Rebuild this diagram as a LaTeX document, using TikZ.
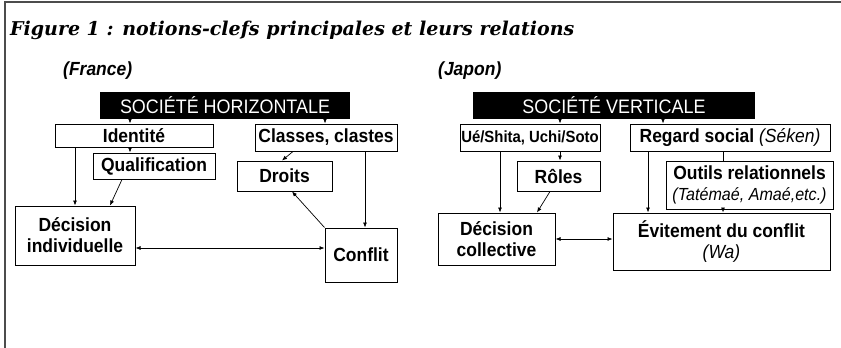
\documentclass[tikz,border=0pt]{standalone}
\usepackage{fontspec}
\setmainfont{DejaVu Serif}
\setsansfont{Liberation Sans}[FakeStretch=0.92]
\usetikzlibrary{arrows.meta}
\newcommand\lightit{\mdseries\itshape}

\begin{document}
\begin{tikzpicture}[x=1pt,y=-1pt,
  box/.style={shape=rectangle,draw=black,align=center,line width=1pt,inner sep=0pt,
    font=\sffamily\bfseries\fontsize{19}{21}\selectfont},
  head/.style={shape=rectangle,fill=black,text=white,inner sep=0pt,
    font=\sffamily\fontsize{19.5}{21}\selectfont},
  land/.style={font=\sffamily\bfseries\itshape\fontsize{19}{21}\selectfont,inner sep=0pt},
  arr/.style={-{Latex[length=5pt,width=4pt]},draw=black,line width=0.7pt},
  dbl/.style={{Latex[length=5pt,width=4pt]}-{Latex[length=5pt,width=4pt]},draw=black,line width=0.7pt}]
\useasboundingbox (0,0) rectangle (841,348);
\draw[draw=black!70,line width=1.5pt] (841,2) -- (5,2) -- (5,348);

\node[anchor=base west,inner sep=0pt,font=\bfseries\itshape\fontsize{19}{24}\selectfont] (0) at (10,35) {Figure 1 : notions-clefs principales et leurs relations};
\node[land,anchor=west] (1) at (63,71) {(France)};
\node[land,anchor=west] (2) at (438,71) {(Japon)};

\node[head,minimum width=250,minimum height=27,text depth=0pt] (3) at (225,105.5) {SOCIÉTÉ HORIZONTALE};
\node[head,minimum width=282,minimum height=27,text depth=0pt] (4) at (614,105.5) {SOCIÉTÉ VERTICALE};

\node[box,minimum width=158,minimum height=23] (5) at (134,135.5) {Identité};
\node[box,minimum width=122,minimum height=26] (6) at (154,166) {Qualification};
\node[box,minimum width=142,minimum height=27] (7) at (326,137.5) {Classes, clastes};
\node[box,minimum width=95,minimum height=30] (8) at (284.5,176) {Droits};
\node[box,minimum width=120,minimum height=59] (9) at (75,235.5) {Décision\\individuelle};
\node[box,minimum width=72,minimum height=54] (10) at (361,255) {Conflit};

\node[box,minimum width=140,minimum height=27,font=\sffamily\bfseries\fontsize{16.2}{20}\selectfont] (11) at (530,137.5) {Ué/Shita, Uchi/Soto};
\node[box,minimum width=200,minimum height=27] (12) at (730,137.5) {Regard social {\lightit(Séken)}};
\node[box,minimum width=83,minimum height=30] (13) at (558.5,176) {Rôles};
\node[box,minimum width=167,minimum height=48] (14) at (749.5,185) {Outils relationnels\\{\lightit\fontsize{17.5}{20}\selectfont(Tatémaé, Amaé,etc.)}};
\node[box,minimum width=117,minimum height=52] (15) at (496.5,239) {Décision\\collective};
\node[box,minimum width=217,minimum height=57] (16) at (721.5,241.5) {Évitement du conflit\\{\lightit(Wa)}};

% France
\draw[arr] ([xshift=-95]3.south) -- ([xshift=-4]5.north);
\draw[arr] ([xshift=100]3.south) -- ([xshift=-1]7.north);
\draw[arr] ([xshift=-4]5.south) -- ([xshift=-24]6.north);
\draw[arr] ([xshift=-59]5.south) -- (9.north);
\draw[arr] ([xshift=-32]6.south) -- ([xshift=35]9.north);
\draw[arr] ([xshift=-33]7.south) -- ([xshift=-2.5]8.north);
\draw[arr] ([xshift=39]7.south) -- ([xshift=4]10.north);
\draw[arr] (10.north west) -- ([xshift=7.5]8.south);
\draw[dbl] ([yshift=-12.5]9.east) -- ([yshift=7]10.west);

% Japon
\draw[arr] ([xshift=-54]4.south) -- ([xshift=30]11.north);
\draw[arr] ([xshift=49]4.south) -- ([xshift=-67]12.north);
\draw[arr] ([xshift=30]11.south) -- ([xshift=1.5]13.north);
\draw[arr] ([xshift=-30]11.south) -- ([xshift=3.5]15.north);
\draw[arr] ([xshift=-8.5]13.south) -- ([xshift=40.5]15.north);
\draw[arr] ([xshift=-82]12.south) -- ([xshift=-73.5]16.north);
\draw[draw=black,line width=0.7pt] ([xshift=-7]12.south) -- ([xshift=-26.5]14.north);
\draw[arr] ([xshift=-26.5]14.south) -- ([xshift=1.5]16.north);
\draw[dbl] (15.east) -- ([yshift=2.5]16.west);
\end{tikzpicture}
\end{document}
